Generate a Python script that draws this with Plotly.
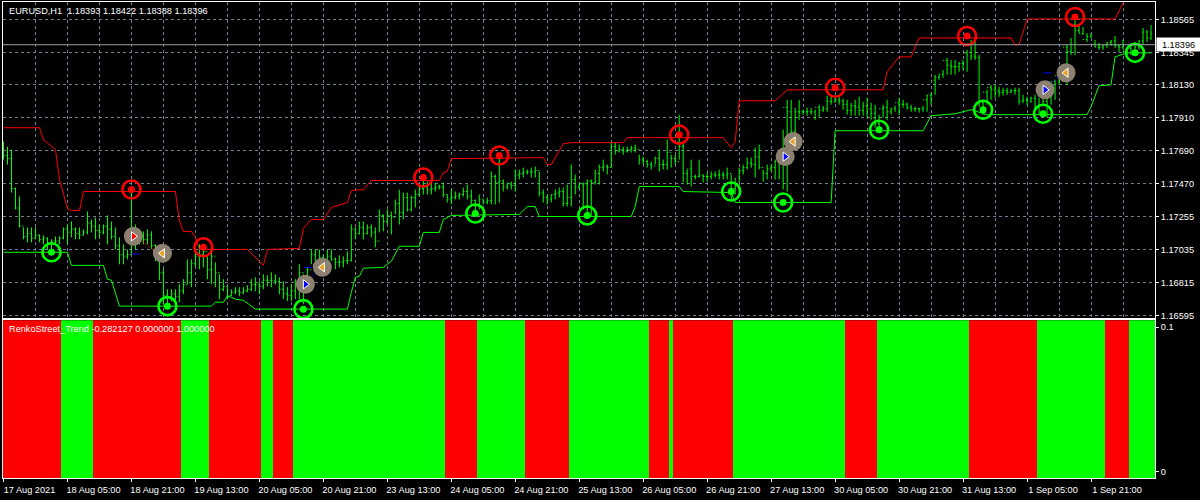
import plotly.graph_objects as go
from plotly.subplots import make_subplots

# ---- data: prices stored in points above 1.16000 ----
base = 1.16
scale = 1e-5
open_pts = [
1700,1660,1640,1440,1310,1190,1120,1140,1110,1130,1100,1110,1080,1090,1090,1110,
1170,1150,1170,1140,1130,1150,1210,1190,1160,1150,1190,1170,1120,1060,1000,990,
1000,1180,1120,1120,1100,1130,1060,1000,880,730,720,740,720,760,800,880,
940,990,1000,1020,900,990,880,770,790,730,750,760,750,760,770,800,
800,790,830,830,830,820,770,740,730,760,800,880,830,900,1000,950,
980,950,990,970,950,950,960,960,1170,1140,1180,1140,1180,1150,1090,1260,
1220,1260,1250,1340,1280,1380,1300,1380,1400,1440,1450,1430,1440,1450,1450,1400,
1370,1380,1390,1400,1420,1390,1360,1320,1370,1350,1360,1520,1480,1490,1450,1470,
1460,1530,1540,1550,1550,1550,1560,1410,1380,1370,1400,1410,1420,1340,1380,1500,
1450,1470,1470,1490,1480,1540,1580,1590,1580,1720,1690,1700,1690,1700,1710,1700,
1630,1620,1600,1590,1640,1600,1600,1680,1640,1620,1720,1540,1570,1520,1520,1530,
1520,1520,1530,1530,1530,1530,1540,1440,1460,1560,1580,1610,1600,1650,1580,1540,
1570,1580,1620,1640,1980,1950,1820,1950,1950,1950,1950,1950,1980,1960,1970,2020,
2020,2030,2020,2000,1960,1990,1980,1960,1990,1970,1940,1870,1970,1980,1950,1970,
2010,2000,2000,1980,1970,1970,1970,2030,2060,2160,2180,2200,2290,2260,2250,2250,
2270,2340,2400,2320,2310,2010,2080,2110,2100,2090,2080,2090,2080,2090,2090,2020,
2030,2020,2040,1980,2060,2020,2100,2150,2190,2200,2380,2350,2530,2490,2470,2430,
2450,2400,2380,2380,2390,2410,2420,2390,2380,2350,2370,2400,2380,2420,2480,2440,
]
high_pts = [
1752,1718,1699,1446,1387,1181,1181,1181,1181,1135,1128,1115,1102,1122,1122,1181,
1201,1221,1181,1181,1168,1287,1234,1247,1201,1201,1261,1221,1181,1115,1069,1035,
1433,1201,1155,1155,1168,1155,1069,1035,903,770,770,770,803,837,969,969,
1016,1069,1069,1002,1069,949,870,837,784,770,784,784,784,797,837,850,
823,870,863,883,870,850,823,784,803,837,936,870,916,1035,1035,1035,
1002,1035,1035,982,996,989,1022,1201,1181,1221,1221,1201,1201,1181,1301,1268,
1301,1287,1367,1433,1413,1413,1393,1433,1466,1500,1486,1480,1480,1466,1480,1400,
1433,1420,1413,1446,1466,1433,1367,1400,1367,1380,1553,1533,1645,1500,1480,1486,
1566,1566,1579,1566,1579,1586,1553,1433,1400,1400,1433,1446,1446,1466,1599,1533,
1480,1480,1500,1500,1566,1599,1632,1599,1745,1745,1732,1718,1718,1725,1732,1665,
1652,1632,1619,1652,1699,1632,1765,1665,1665,1931,1745,1566,1632,1533,1632,1533,
1546,1553,1553,1566,1553,1579,1533,1513,1579,1599,1645,1645,1712,1732,1566,1599,
1599,1632,1665,1831,2030,2030,1977,2030,1964,1977,1977,1964,1997,1990,2057,2050,
2043,2050,2037,2030,2010,2030,2050,2017,2043,2010,1997,1931,1997,2030,1977,1990,
2043,2030,2010,1997,1984,1977,1990,2063,2076,2196,2196,2229,2308,2295,2295,2282,
2295,2362,2428,2428,2328,2030,2096,2129,2129,2116,2110,2110,2103,2110,2110,2063,
2050,2050,2063,2043,2096,2063,2129,2163,2216,2229,2395,2441,2560,2527,2514,2474,
2474,2428,2408,2395,2414,2428,2454,2395,2428,2375,2395,2414,2428,2507,2494,2527,
]
low_pts = [
1632,1599,1413,1301,1181,1102,1082,1082,1102,1082,1069,1035,1022,1069,1069,1102,
1069,1115,1102,1102,1128,1135,1148,1102,1115,1135,1069,1102,1035,936,936,969,
1002,1035,1069,1069,1069,1035,956,830,671,651,691,691,684,737,803,784,
916,903,916,837,803,784,704,757,704,724,737,724,737,750,757,757,
737,770,790,784,803,737,704,691,691,704,704,671,803,936,890,916,
903,936,956,903,916,916,936,956,1102,1135,1102,1135,1115,1049,1148,1155,
1201,1135,1268,1201,1234,1287,1287,1314,1387,1400,1400,1400,1420,1433,1380,1347,
1334,1367,1367,1387,1367,1334,1287,1301,1334,1334,1334,1334,1347,1420,1433,1433,
1420,1500,1513,1533,1513,1513,1387,1347,1334,1347,1367,1380,1320,1320,1320,1400,
1433,1301,1268,1254,1466,1466,1553,1533,1579,1665,1679,1665,1679,1679,1679,1599,
1599,1579,1566,1599,1553,1566,1566,1579,1599,1632,1480,1466,1453,1500,1513,1480,
1486,1500,1513,1500,1500,1500,1367,1400,1480,1533,1566,1579,1513,1566,1486,1500,
1553,1500,1500,1433,1420,1732,1798,1897,1931,1924,1931,1897,1911,1950,1950,1997,
2010,1997,1964,1931,1924,1924,1924,1924,1911,1897,1844,1844,1911,1897,1931,1950,
1931,1977,1964,1950,1950,1944,1950,1950,1997,2063,2163,2176,2196,2196,2196,2216,
2229,2216,2295,2295,1984,1931,1997,2030,2043,2050,2057,2063,2076,2063,1997,2010,
1997,2010,1964,1931,1997,1911,1997,2030,2129,2196,2129,2328,2328,2474,2461,2414,
2441,2381,2362,2362,2375,2388,2375,2348,2362,2328,2328,2348,2362,2395,2414,2428,
]
close_pts = [
1660,1640,1440,1310,1190,1120,1140,1110,1130,1100,1110,1080,1090,1090,1110,1170,
1150,1170,1140,1130,1150,1210,1190,1160,1150,1190,1170,1120,1060,1000,990,1000,
1180,1120,1120,1100,1130,1060,1000,880,730,720,740,720,760,800,880,940,
990,1000,1020,900,990,880,770,790,730,750,760,750,760,770,800,800,
790,830,830,830,820,770,740,730,760,800,880,830,900,1000,950,980,
950,990,970,950,950,960,960,1170,1140,1180,1140,1180,1150,1090,1260,1220,
1260,1250,1340,1280,1380,1300,1380,1400,1440,1450,1430,1440,1450,1450,1400,1370,
1380,1390,1400,1420,1390,1360,1320,1370,1350,1360,1520,1480,1490,1450,1470,1460,
1530,1540,1550,1550,1550,1560,1410,1380,1370,1400,1410,1420,1340,1380,1500,1450,
1470,1470,1490,1480,1540,1580,1590,1580,1720,1690,1700,1690,1700,1710,1700,1630,
1620,1600,1590,1640,1600,1600,1680,1640,1620,1720,1540,1570,1520,1520,1530,1520,
1520,1530,1530,1530,1530,1540,1440,1460,1560,1580,1610,1600,1650,1580,1540,1570,
1580,1620,1640,1980,1950,1820,1950,1950,1950,1950,1950,1980,1960,1970,2020,2020,
2030,2020,2000,1960,1990,1980,1960,1990,1970,1940,1870,1970,1980,1950,1970,2010,
2000,2000,1980,1970,1970,1970,2030,2060,2160,2180,2200,2290,2260,2250,2250,2270,
2340,2400,2320,2310,2010,2080,2110,2100,2090,2080,2090,2080,2090,2090,2020,2030,
2020,2040,1980,2060,2020,2100,2150,2190,2200,2380,2350,2530,2490,2470,2430,2450,
2400,2380,2380,2390,2410,2420,2390,2380,2350,2370,2400,2380,2420,2480,2440,2470,
]
red_bar = [0,9,10,12,13,14,16,17,19,20,43,44,45,47,48,49,61,65,66,74,75,77,80,82,86,87,90,92,109,110,111,112,135,136,137,138,140,142,155,156,180,182,183,184,193,196,220,221,224,227,229,252,253,254,256,278,280,281]
red_val = [1844,1844,1765,1725,1699,1500,1307,1294,1294,1420,1420,1222,1155,1155,1115,1035,1035,929,1035,1042,1175,1234,1234,1314,1347,1427,1433,1493,1493,1546,1553,1639,1645,1599,1599,1645,1738,1745,1745,1778,1778,1712,1752,2023,2023,2096,2096,2216,2315,2315,2441,2441,2395,2395,2567,2567,2673,2760]
green_bar = [0,16,17,25,26,27,29,52,53,55,56,57,58,60,63,86,87,88,89,90,95,97,99,104,105,109,110,112,129,131,133,134,157,158,159,169,170,182,183,207,208,230,232,238,242,246,247,271,272,274,277,278,281,287]
green_val = [1016,1016,929,929,837,830,658,658,684,684,724,717,704,697,638,638,750,850,856,910,916,956,1056,1056,1148,1148,1234,1261,1268,1320,1320,1254,1254,1320,1453,1453,1420,1413,1347,1347,1824,1824,1924,1937,1964,1930,1931,1931,1984,2123,2129,2315,2342,2342]
sell_bar = [32,50,105,124,169,208,241,268]
sell_val = [1433,1049,1513,1659,1798,2110,2454,2580]
buy_bar = [12,41,75,118,146,182,195,219,245,260,283]
buy_val = [1016,658,638,1274,1261,1420,1347,1831,1964,1937,2342]
trade_open_bar = [32.5,75.5,195.5,260.5]
trade_open_val = [1122,803,1652,2096]
trade_close_bar = [39.75,79.75,197.5,265.75]
trade_close_val = [1009,916,1752,2209]
dash_bar = [32,34,None,75.25,77.25,None,195.25,197,None,260,262]
dash_val = [1004,1004,None,916,916,None,1758,1758,None,2209,2209]
blue_link_bar = [75.5,78.75,None,195.5,197,None,260.5,264.25]
blue_link_val = [803,903,None,1652,1745,None,2096,2196]
red_link_bar = [33,38]
red_link_val = [1122,1022]
trend_edges = [-0.5,14.5,22.5,44.5,51.5,64.5,67.5,72.5,110.5,118.5,130.5,141.5,161.5,166.5,167.5,182.5,210.5,218.5,241.5,258.5,275.5,281.5,288.5]
trend_colors = ["red","lime","red","lime","red","lime","red","lime","red","lime","red","lime","red","lime","red","lime","red","lime","red","lime","red","lime"]
trend_top = 1.0
trend_bottom = -0.282127
price_ticks = [1.18565,1.18345,1.18130,1.17910,1.17690,1.17470,1.17255,1.17035,1.16815,1.16595]
time_labels = ["17 Aug 2021","18 Aug 05:00","18 Aug 21:00","19 Aug 13:00","20 Aug 05:00","20 Aug 21:00","23 Aug 13:00","24 Aug 05:00","24 Aug 21:00","25 Aug 13:00","26 Aug 05:00","26 Aug 21:00","27 Aug 13:00","30 Aug 05:00","30 Aug 21:00","31 Aug 13:00","1 Sep 05:00","1 Sep 21:00"]
last_price = 1.18396

assert len(open_pts) == len(high_pts) == len(low_pts) == len(close_pts) == 288
assert len(red_bar) == len(red_val) and len(green_bar) == len(green_val)

def pr(seq):
    return [None if v is None else base + v * scale for v in seq]

FONT = "Liberation Sans"
FS = 9.2
GRID = "#708090"
bars = list(range(len(open_pts)))

fig = make_subplots(rows=2, cols=1, shared_xaxes=True, vertical_spacing=0.0042,
                    row_heights=[0.667, 0.333])

fig.add_trace(go.Ohlc(x=bars, open=pr(open_pts), high=pr(high_pts), low=pr(low_pts), close=pr(close_pts),
                      increasing=dict(line=dict(color="#00ff00", width=1)),
                      decreasing=dict(line=dict(color="#00ff00", width=1)),
                      tickwidth=0.3, showlegend=False), row=1, col=1)
fig.add_trace(go.Scatter(x=red_bar, y=pr(red_val), mode="lines", line=dict(color="#ff0000", width=1), showlegend=False), row=1, col=1)
fig.add_trace(go.Scatter(x=green_bar, y=pr(green_val), mode="lines", line=dict(color="#00ff00", width=1), showlegend=False), row=1, col=1)
fig.add_trace(go.Scatter(x=sell_bar, y=pr(sell_val), mode="markers", marker=dict(symbol="circle-open", size=18, color="#ff0000", line=dict(color="#ff0000", width=2.6)), showlegend=False), row=1, col=1)
fig.add_trace(go.Scatter(x=sell_bar, y=pr(sell_val), mode="markers", marker=dict(symbol="circle", size=7, color="#ff0000"), showlegend=False), row=1, col=1)
fig.add_trace(go.Scatter(x=buy_bar, y=pr(buy_val), mode="markers", marker=dict(symbol="circle-open", size=18, color="#00ff00", line=dict(color="#00ff00", width=2.6)), showlegend=False), row=1, col=1)
fig.add_trace(go.Scatter(x=buy_bar, y=pr(buy_val), mode="markers", marker=dict(symbol="circle", size=7, color="#00ff00"), showlegend=False), row=1, col=1)
fig.add_trace(go.Scatter(x=dash_bar, y=pr(dash_val), mode="lines", line=dict(color="#0000ff", width=1), showlegend=False), row=1, col=1)
fig.add_trace(go.Scatter(x=blue_link_bar, y=pr(blue_link_val), mode="lines", line=dict(color="#0000ff", width=1, dash="2px,2px"), showlegend=False), row=1, col=1)
fig.add_trace(go.Scatter(x=red_link_bar, y=pr(red_link_val), mode="lines", line=dict(color="#ff0000", width=1, dash="2px,2px"), showlegend=False), row=1, col=1)
fig.add_trace(go.Scatter(x=trade_open_bar + trade_close_bar, y=pr(trade_open_val + trade_close_val), mode="markers", marker=dict(symbol="circle", size=19, color="#8c8070"), showlegend=False), row=1, col=1)
fig.add_trace(go.Scatter(x=trade_open_bar[:1], y=pr(trade_open_val[:1]), mode="markers", marker=dict(symbol="triangle-right", size=8, color="#ff0000", line=dict(color="white", width=1)), showlegend=False), row=1, col=1)
fig.add_trace(go.Scatter(x=trade_open_bar[1:], y=pr(trade_open_val[1:]), mode="markers", marker=dict(symbol="triangle-right", size=8, color="#0000ff", line=dict(color="white", width=1)), showlegend=False), row=1, col=1)
fig.add_trace(go.Scatter(x=trade_close_bar, y=pr(trade_close_val), mode="markers", marker=dict(symbol="triangle-left", size=8, color="#e8a020", line=dict(color="white", width=1)), showlegend=False), row=1, col=1)

seg_mid = [(a + b) / 2 for a, b in zip(trend_edges[:-1], trend_edges[1:])]
seg_width = [b - a for a, b in zip(trend_edges[:-1], trend_edges[1:])]
fig.add_trace(go.Bar(x=seg_mid, y=[trend_top - trend_bottom] * len(seg_mid), base=trend_bottom, width=seg_width,
                     marker=dict(color=trend_colors, line=dict(width=0)), showlegend=False), row=2, col=1)

axis_font = dict(family=FONT, size=FS, color="white")
major = bars[::16]
minor = bars[8::16]
fig.update_xaxes(range=[-0.125, 288], showline=True, linecolor="white", linewidth=1, mirror=True,
                 rangeslider_visible=False, zeroline=False)
fig.update_xaxes(row=1, col=1, tickmode="array", tickvals=major, showticklabels=False, ticks="",
                 showgrid=True, gridcolor=GRID, griddash="3px,3px", gridwidth=1,
                 minor=dict(tickvals=minor, showgrid=True, gridcolor=GRID, griddash="3px,3px", gridwidth=1, ticks=""))
fig.update_xaxes(row=2, col=1, tickmode="array", tickvals=major, ticktext=time_labels, showticklabels=True,
                 ticks="outside", ticklen=3, tickcolor="white", tickfont=axis_font, ticklabelshift=26,
                 tickangle=0, showgrid=False)
fig.update_yaxes(row=1, col=1, range=[1.16578, 1.18680], side="right", tickmode="array", tickvals=price_ticks,
                 ticktext=[f"{v:.5f}" for v in price_ticks], tickfont=axis_font, ticks="outside", ticklen=3,
                 tickcolor="white", showgrid=True, gridcolor=GRID, griddash="3px,3px", gridwidth=1,
                 showline=True, linecolor="white", linewidth=1, mirror=True, zeroline=False)
fig.update_yaxes(row=2, col=1, range=[-0.0042, 0.1049], side="right", tickmode="array", tickvals=[0, 0.1],
                 ticktext=["0", "0.1"], tickfont=axis_font, ticks="outside", ticklen=3, tickcolor="white",
                 showgrid=False, showline=True, linecolor="white", linewidth=1, mirror=True, zeroline=False)

fig.add_shape(type="line", xref="paper", x0=0, x1=1, yref="y", y0=last_price, y1=last_price,
              line=dict(color="#98a0a8", width=1), layer="above")
fig.add_annotation(xref="paper", x=0, xshift=4, xanchor="left", yref="paper", y=1, yshift=-2, yanchor="top",
                   text="EURUSD,H1  1.18393 1.18422 1.18388 1.18396", showarrow=False, font=axis_font)
fig.add_annotation(xref="paper", x=0, xshift=4, xanchor="left", yref="y2 domain", y=1, yshift=-2, yanchor="top",
                   text="RenkoStreet_Trend -0.282127 0.000000 1.000000", showarrow=False, font=axis_font)
fig.add_annotation(xref="paper", x=1, xshift=1, xanchor="left", yref="y", y=last_price, yanchor="middle",
                   text=f"{last_price:.5f}", showarrow=False, bgcolor="white", width=41, height=11,
                   font=dict(family=FONT, size=FS, color="black"))

fig.update_layout(width=1200, height=500, margin=dict(l=3, r=45, t=2, b=22), paper_bgcolor="black",
                  plot_bgcolor="black", bargap=0, showlegend=False, font=axis_font)
fig.write_html("out.html", config={"displayModeBar": False},
               post_script="document.body.style.margin='0';document.body.style.background='black';")
